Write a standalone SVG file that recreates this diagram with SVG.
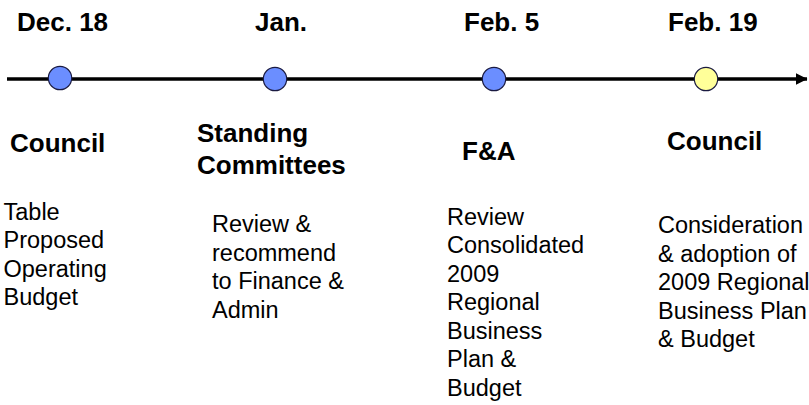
<svg xmlns="http://www.w3.org/2000/svg" width="809" height="405" viewBox="0 0 809 405">
  <style>
    .date { font-family: "Liberation Sans", Arial, sans-serif; font-weight: bold; font-size: 26px; fill: #000; }
    .title { font-family: "Liberation Sans", Arial, sans-serif; font-weight: bold; font-size: 26px; fill: #000; }
    .body { font-family: "Liberation Sans", Arial, sans-serif; font-size: 23.5px; fill: #000; }
    .dot { stroke: #1a1a40; stroke-width: 1.2; }
    .blue { fill: #6B8EFF; }
    .yellow { fill: #FFFF99; }
    .axis { stroke: #000; stroke-width: 3.5; fill: none; }
  </style>
  <defs>
    <marker id="arrow" markerWidth="12" markerHeight="12" refX="11" refY="6" orient="auto" markerUnits="userSpaceOnUse">
      <path d="M0,0.3 L11.5,6 L0,11.7 Z" fill="#000"/>
    </marker>
  </defs>
  <rect width="809" height="405" fill="#fff"/>

  <g id="connectors">
    <line class="axis" x1="7" y1="79" x2="807" y2="79" marker-end="url(#arrow)"/>
  </g>

  <g id="node-dec18">
    <text class="date" x="17" y="31">Dec. 18</text>
    <circle class="dot blue" cx="60" cy="78" r="11.7"/>
    <text class="title" x="10" y="152">Council</text>
    <text class="body">
      <tspan x="3.5" y="219.5">Table</tspan>
      <tspan x="3.5" y="248">Proposed</tspan>
      <tspan x="3.5" y="276.5">Operating</tspan>
      <tspan x="3.5" y="305">Budget</tspan>
    </text>
  </g>

  <g id="node-jan">
    <text class="date" x="255" y="31">Jan.</text>
    <circle class="dot blue" cx="275" cy="79" r="11.7"/>
    <text class="title">
      <tspan x="197" y="141.5">Standing</tspan>
      <tspan x="197" y="174">Committees</tspan>
    </text>
    <text class="body">
      <tspan x="212" y="232">Review &amp;</tspan>
      <tspan x="212" y="260.5">recommend</tspan>
      <tspan x="212" y="289">to Finance &amp;</tspan>
      <tspan x="212" y="317.5">Admin</tspan>
    </text>
  </g>

  <g id="node-feb5">
    <text class="date" x="464" y="31">Feb. 5</text>
    <circle class="dot blue" cx="494" cy="79" r="11.7"/>
    <text class="title" x="462" y="160">F&amp;A</text>
    <text class="body">
      <tspan x="447" y="224.5">Review</tspan>
      <tspan x="447" y="253">Consolidated</tspan>
      <tspan x="447" y="281.5">2009</tspan>
      <tspan x="447" y="310">Regional</tspan>
      <tspan x="447" y="338.5">Business</tspan>
      <tspan x="447" y="367">Plan &amp;</tspan>
      <tspan x="447" y="395.5">Budget</tspan>
    </text>
  </g>

  <g id="node-feb19">
    <text class="date" x="668" y="31">Feb. 19</text>
    <circle class="dot yellow" cx="706" cy="79" r="11.7"/>
    <text class="title" x="667" y="150">Council</text>
    <text class="body">
      <tspan x="658" y="233">Consideration</tspan>
      <tspan x="658" y="261.5">&amp; adoption of</tspan>
      <tspan x="658" y="290">2009 Regional</tspan>
      <tspan x="658" y="318.5">Business Plan</tspan>
      <tspan x="658" y="347">&amp; Budget</tspan>
    </text>
  </g>
</svg>
